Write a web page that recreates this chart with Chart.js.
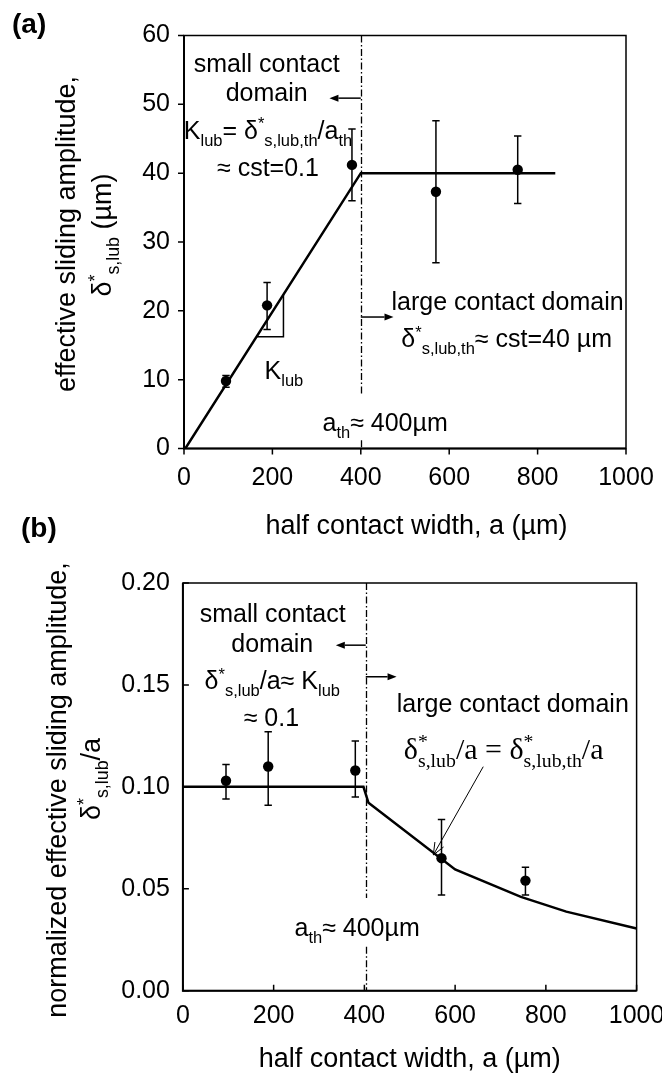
<!DOCTYPE html>
<html lang="en">

<head>
    <meta charset="UTF-8">
    <title>Effective sliding amplitude vs half contact width</title>
    <script src="https://cdn.jsdelivr.net/npm/chart.js"></script>
    <style>
        html, body { margin: 0; padding: 0; background: #fff; overflow: hidden; width: 662px; height: 1077px; }
        canvas { position: absolute; left: 0; }
        #chartA { top: 0; }
        #chartB { top: 545px; }
    </style>
</head>

<body>
    <!-- (a) effective sliding amplitude -->
    <canvas id="chartA" width="662" height="545"></canvas>
    <!-- (b) normalized amplitude (wider than the page so the last tick label runs off the edge) -->
    <canvas id="chartB" width="700" height="532"></canvas>

    <script>
        // measured points (half contact width in µm)
        const halfWidth = [95, 188, 380, 570, 755];

        // (a) effective sliding amplitude, µm
        const deltaMean = [9.8, 20.8, 41.2, 37.3, 40.5];
        const deltaLow = [8.9, 17.3, 36.0, 27.0, 35.6];
        const deltaHigh = [10.6, 24.1, 46.4, 47.6, 45.4];

        // (b) normalized amplitude δ*/a
        const normMean = [0.103, 0.110, 0.108, 0.065, 0.054];
        const normLow = [0.094, 0.091, 0.095, 0.047, 0.047];
        const normHigh = [0.111, 0.127, 0.1225, 0.084, 0.0605];

        // model curves
        const modelAX = [3, 400, 840];
        const modelAY = [0, 40, 40];
        const modelBX = [0, 398, 409, 600, 745, 845, 1000];
        const modelBY = [0.1, 0.1, 0.0922, 0.0595, 0.046, 0.0388, 0.0305];

        // axis ticks
        const xTicks = [0, 200, 400, 600, 800, 1000];
        const yTicksA = [0, 10, 20, 30, 40, 50, 60];
        const yTicksB = [0, 0.05, 0.10, 0.15, 0.20];

        // threshold half width
        const aThA = 400;
        const aThB = 403;

        const SANS = '"Liberation Sans", Arial, sans-serif';
        const SERIF = '"Liberation Serif", "DejaVu Serif", serif';

        const toXY = (xs, ys) => xs.map((v, i) => ({ x: v, y: ys[i] }));

        // linear interpolation along a polyline
        function interp(xs, ys, v) {
            for (let i = 1; i < xs.length; i++) {
                if (v <= xs[i]) {
                    const t = (v - xs[i - 1]) / (xs[i] - xs[i - 1]);
                    return ys[i - 1] + t * (ys[i] - ys[i - 1]);
                }
            }
            return ys[ys.length - 1];
        }

        // text with sub/superscripts: parts = [text, kind], kind '' | 'sub' | 'sup' | 'both' ([sup, sub] stacked)
        function drawRich(ctx, parts, x, y, size, family, align, weight) {
            const small = size * 0.66;
            const w = weight || '';
            const measure = (t, s) => { ctx.font = `${w} ${s}px ${family}`; return ctx.measureText(t).width; };
            let total = 0;
            const widths = parts.map(([t, k]) => {
                const wd = k === 'both' ? Math.max(measure(t[0], small), measure(t[1], small))
                    : measure(t, k ? small : size);
                total += wd;
                return wd;
            });
            let cx = align === 'left' ? x : x - total / 2;
            ctx.textAlign = 'left';
            ctx.textBaseline = 'alphabetic';
            parts.forEach(([t, k], i) => {
                if (k === 'sub' || k === 'sup') {
                    ctx.font = `${w} ${small}px ${family}`;
                    ctx.fillText(t, cx, y + (k === 'sub' ? size * 0.28 : -size * 0.38));
                } else if (k === 'both') {
                    ctx.font = `${w} ${small}px ${family}`;
                    ctx.fillText(t[0], cx, y - size * 0.38);
                    ctx.fillText(t[1], cx, y + size * 0.28);
                } else {
                    ctx.font = `${w} ${size}px ${family}`;
                    ctx.fillText(t, cx, y);
                }
                cx += widths[i];
            });
        }

        function arrow(ctx, x0, y0, x1, y1, open) {
            const ang = Math.atan2(y1 - y0, x1 - x0);
            const len = open ? 12 : 9, half = open ? 5 : 3.5;
            const bx = x1 - len * Math.cos(ang), by = y1 - len * Math.sin(ang);
            const nx = -Math.sin(ang) * half, ny = Math.cos(ang) * half;
            ctx.beginPath();
            ctx.moveTo(x0, y0);
            ctx.lineTo(open ? x1 : bx, open ? y1 : by);
            ctx.stroke();
            ctx.beginPath();
            ctx.moveTo(bx + nx, by + ny);
            ctx.lineTo(x1, y1);
            ctx.lineTo(bx - nx, by - ny);
            if (open) ctx.stroke(); else { ctx.closePath(); ctx.fill(); }
        }

        // frame, tick marks, tick labels and axis titles
        function drawAxes(chart, cfg) {
            const { ctx, chartArea: ca, scales: { x, y } } = chart;
            ctx.save();
            ctx.strokeStyle = '#000';
            ctx.fillStyle = '#000';
            ctx.lineWidth = 1.5;
            ctx.strokeRect(ca.left, ca.top, ca.right - ca.left, ca.bottom - ca.top);
            ctx.lineWidth = 2;
            ctx.beginPath();
            ctx.moveTo(ca.left, ca.top);
            ctx.lineTo(ca.left, ca.bottom);
            ctx.lineTo(ca.right, ca.bottom);
            ctx.stroke();

            const dir = cfg.ticksInside ? -1 : 1;
            ctx.lineWidth = 1.5;
            ctx.beginPath();
            x.ticks.forEach(t => {
                const px = x.getPixelForValue(t.value);
                ctx.moveTo(px, ca.bottom);
                ctx.lineTo(px, ca.bottom + dir * 6);
            });
            y.ticks.forEach(t => {
                const py = y.getPixelForValue(t.value);
                ctx.moveTo(ca.left, py);
                ctx.lineTo(ca.left - dir * 6, py);
            });
            ctx.stroke();

            ctx.font = `25px ${SANS}`;
            ctx.textAlign = 'center';
            ctx.textBaseline = 'middle';
            x.ticks.forEach(t => ctx.fillText(String(t.value), x.getPixelForValue(t.value), ca.bottom + cfg.xLabelGap));
            ctx.textAlign = 'right';
            y.ticks.forEach(t => ctx.fillText(cfg.yFmt(t.value), ca.left - cfg.yLabelGap, y.getPixelForValue(t.value)));

            // x title
            ctx.textAlign = 'center';
            ctx.font = `27px ${SANS}`;
            ctx.fillText('half contact width, a (µm)', x.getPixelForValue(cfg.xTitleAt), ca.bottom + cfg.xTitleGap);

            // y title, two rotated lines
            cfg.yTitle.forEach(line => {
                ctx.save();
                ctx.translate(line.x, line.y);
                ctx.rotate(-Math.PI / 2);
                drawRich(ctx, line.parts, 0, 0, 27, SANS, 'center');
                ctx.restore();
            });
            ctx.restore();
        }

        function drawErrorBars(chart, xs, lo, hi) {
            const { ctx, scales: { x, y } } = chart;
            ctx.save();
            ctx.strokeStyle = '#000';
            ctx.lineWidth = 1.5;
            ctx.beginPath();
            xs.forEach((v, i) => {
                const px = x.getPixelForValue(v);
                const y1 = y.getPixelForValue(lo[i]);
                const y2 = y.getPixelForValue(hi[i]);
                ctx.moveTo(px, y1); ctx.lineTo(px, y2);
                ctx.moveTo(px - 3.7, y1); ctx.lineTo(px + 3.7, y1);
                ctx.moveTo(px - 3.7, y2); ctx.lineTo(px + 3.7, y2);
            });
            ctx.stroke();
            ctx.restore();
        }

        function drawDashDot(chart, xv, segs) {
            const { ctx, scales: { x, y } } = chart;
            const px = Math.round(x.getPixelForValue(xv)) + 0.5;
            ctx.save();
            ctx.strokeStyle = '#000';
            ctx.lineWidth = 1.3;
            ctx.setLineDash([7, 2.5, 1.5, 2.5]);
            ctx.beginPath();
            segs.forEach(([y0, y1]) => {
                ctx.moveTo(px, y.getPixelForValue(y0));
                ctx.lineTo(px, y.getPixelForValue(y1));
            });
            ctx.stroke();
            ctx.restore();
        }

        // labels placed in data units; y is the visual centre of the line
        function drawLabels(chart, labels) {
            const { ctx, scales: { x, y } } = chart;
            ctx.save();
            ctx.fillStyle = '#000';
            labels.forEach(l => {
                const size = l.size || 25;
                drawRich(ctx, l.parts, x.getPixelForValue(l.x), y.getPixelForValue(l.y) + size * 0.36,
                    size, l.family || SANS, 'center');
            });
            ctx.restore();
        }

        function drawArrows(chart, arrows) {
            const { ctx, scales: { x, y } } = chart;
            ctx.save();
            ctx.fillStyle = '#000';
            arrows.forEach(a => {
                ctx.strokeStyle = '#000';
                ctx.lineWidth = a.open ? 1 : 1.5;
                arrow(ctx, x.getPixelForValue(a.from[0]), y.getPixelForValue(a.from[1]),
                    x.getPixelForValue(a.to[0]), y.getPixelForValue(a.to[1]), a.open);
            });
            ctx.restore();
        }

        function baseScales(yMax, yStep) {
            return {
                x: {
                    type: 'linear', min: 0, max: 1000,
                    ticks: { display: false, stepSize: 200 },
                    grid: { display: false, drawTicks: false },
                    border: { display: false },
                    afterFit: s => { s.height = 0; }
                },
                y: {
                    type: 'linear', min: 0, max: yMax,
                    ticks: { display: false, stepSize: yStep },
                    grid: { display: false, drawTicks: false },
                    border: { display: false },
                    afterFit: s => { s.width = 0; }
                }
            };
        }

        function baseDatasets(points, model) {
            return [
                {
                    label: 'measured',
                    data: points,
                    showLine: false,
                    pointRadius: 5.2,
                    pointBackgroundColor: '#000',
                    pointBorderColor: '#000',
                    pointBorderWidth: 0
                },
                {
                    label: 'model',
                    data: model,
                    showLine: true,
                    borderColor: '#000',
                    borderWidth: 2.5,
                    pointRadius: 0,
                    tension: 0,
                    fill: false
                }
            ];
        }

        const commonOptions = {
            responsive: false,
            animation: false,
            events: [],
            plugins: { legend: { display: false }, tooltip: { enabled: false } }
        };

        // ---------- (a) ----------
        const slopeX0 = 164, slopeX1 = 225;

        const labelsA = [
            { parts: [['small contact', '']], x: 187, y: 56.0 },
            { parts: [['domain', '']], x: 187, y: 51.75 },
            { parts: [['K', ''], ['lub', 'sub'], ['= δ', ''], ['*', 'sup'], ['s,lub,th', 'sub'], ['/a', ''], ['th', 'sub']], x: 190, y: 46.3 },
            { parts: [['≈ cst=0.1', '']], x: 190, y: 40.9 },
            { parts: [['large contact domain', '']], x: 732, y: 21.5 },
            { parts: [['δ', ''], ['*', 'sup'], ['s,lub,th', 'sub'], ['≈ cst=40 µm', '']], x: 730, y: 16.05 },
            { parts: [['K', ''], ['lub', 'sub']], x: 226, y: 11.4 },
            { parts: [['a', ''], ['th', 'sub'], ['≈ 400µm', '']], x: 455, y: 3.9 }
        ];
        const arrowsA = [
            { from: [aThA, 50.9], to: [329, 50.9] },
            { from: [aThA, 19.1], to: [474, 19.1] }
        ];

        const decorA = {
            id: 'decorA',
            beforeDatasetsDraw(chart) {
                drawAxes(chart, {
                    ticksInside: false, xLabelGap: 30, yLabelGap: 14,
                    yFmt: v => String(v), xTitleAt: 526, xTitleGap: 78,
                    yTitle: [
                        { x: 74.5, y: 234, parts: [['effective sliding amplitude,', '']] },
                        { x: 111, y: 235, parts: [['δ', ''], ['*', 'sup'], ['s,lub', 'sub'], [' (µm)', '']] }
                    ]
                });
                drawDashDot(chart, aThA, [[60, 7.8], [1.2, 0]]);
                drawErrorBars(chart, halfWidth, deltaLow, deltaHigh);

                // slope triangle under the model line
                const { ctx, scales: { x, y } } = chart;
                const yb = interp(modelAX, modelAY, slopeX0);
                ctx.save();
                ctx.strokeStyle = '#000';
                ctx.lineWidth = 1.5;
                ctx.beginPath();
                ctx.moveTo(x.getPixelForValue(slopeX0), y.getPixelForValue(yb));
                ctx.lineTo(x.getPixelForValue(slopeX1), y.getPixelForValue(yb));
                ctx.lineTo(x.getPixelForValue(slopeX1), y.getPixelForValue(interp(modelAX, modelAY, slopeX1)));
                ctx.stroke();
                ctx.restore();
            },
            afterDatasetsDraw(chart) {
                drawLabels(chart, labelsA);
                drawArrows(chart, arrowsA);
                const ctx = chart.ctx;
                ctx.save();
                ctx.fillStyle = '#000';
                drawRich(ctx, [['(a)', '']], 12, 33, 28, SANS, 'left', 'bold');
                drawRich(ctx, [['(b)', '']], 21, 537, 28, SANS, 'left', 'bold');
                ctx.restore();
            }
        };

        const chartA = new Chart(document.getElementById('chartA'), {
            type: 'scatter',
            data: { datasets: baseDatasets(toXY(halfWidth, deltaMean), toXY(modelAX, modelAY)) },
            options: {
                ...commonOptions,
                layout: { padding: { left: 184, top: 35.5, right: 36, bottom: 96.5 } },
                scales: baseScales(60, 10)
            },
            plugins: [decorA]
        });

        // ---------- (b) ----------
        const labelsB = [
            { parts: [['small contact', '']], x: 198, y: 0.1851 },
            { parts: [['domain', '']], x: 197, y: 0.1704 },
            { parts: [['δ', ''], ['*', 'sup'], ['s,lub', 'sub'], ['/a≈ K', ''], ['lub', 'sub']], x: 197, y: 0.1524 },
            { parts: [['≈ 0.1', '']], x: 195, y: 0.1344 },
            { parts: [['large contact domain', '']], x: 727, y: 0.141 },
            {
                parts: [['δ', ''], [['*', 's,lub'], 'both'], ['/a = δ', ''], [['*', 's,lub,th'], 'both'], ['/a', '']],
                x: 707, y: 0.119, family: SERIF, size: 30
            },
            { parts: [['a', ''], ['th', 'sub'], ['≈ 400µm', '']], x: 384, y: 0.0314 }
        ];
        const arrowsB = [
            { from: [aThB, 0.1695], to: [337, 0.1695] },
            { from: [aThB, 0.154], to: [471, 0.154] },
            { from: [662, 0.1099], to: [552, 0.0666], open: true }
        ];

        const decorB = {
            id: 'decorB',
            beforeDatasetsDraw(chart) {
                drawAxes(chart, {
                    ticksInside: true, xLabelGap: 25, yLabelGap: 13,
                    yFmt: v => v.toFixed(2), xTitleAt: 500, xTitleGap: 69.3,
                    yTitle: [
                        { x: 66, y: 245, parts: [['normalized effective sliding amplitude,', '']] },
                        { x: 100, y: 234, parts: [['δ', ''], ['*', 'sup'], ['s,lub', 'sub'], ['/a', '']] }
                    ]
                });
                drawDashDot(chart, aThB, [[0.2, 0.0455], [0.0216, 0]]);
                drawErrorBars(chart, halfWidth, normLow, normHigh);
            },
            afterDatasetsDraw(chart) {
                drawLabels(chart, labelsB);
                drawArrows(chart, arrowsB);
            }
        };

        const chartB = new Chart(document.getElementById('chartB'), {
            type: 'scatter',
            data: { datasets: baseDatasets(toXY(halfWidth, normMean), toXY(modelBX, modelBY)) },
            options: {
                ...commonOptions,
                layout: { padding: { left: 182.9, top: 38, right: 63.4, bottom: 86.3 } },
                scales: baseScales(0.2, 0.05)
            },
            plugins: [decorB]
        });
    </script>
</body>

</html>
